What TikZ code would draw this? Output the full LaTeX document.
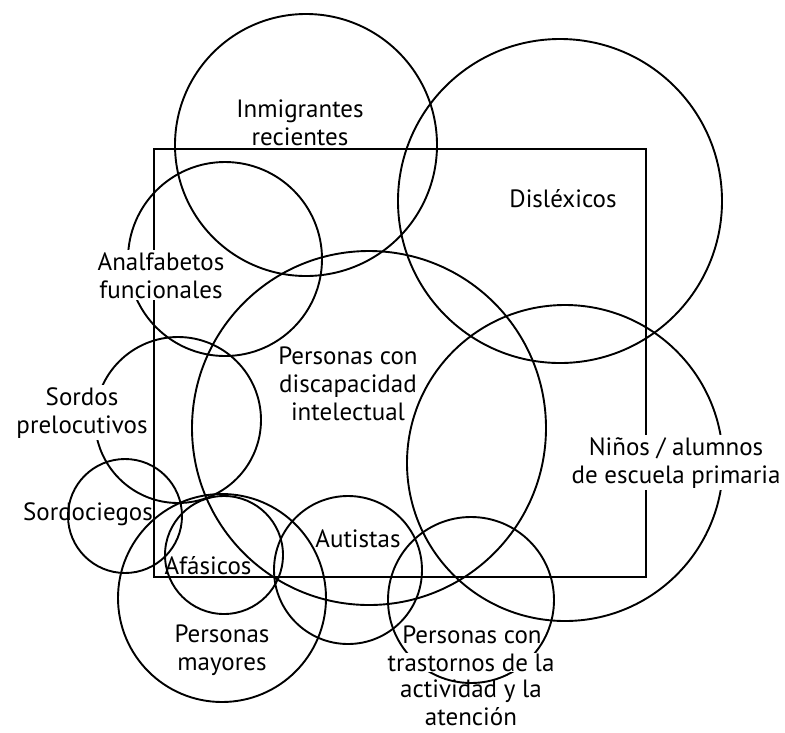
\documentclass[tikz,border=0pt]{standalone}
\usepackage{fontspec}
\setmainfont{PT Sans}
\tikzset{
  grupo/.style={line width=1.9pt},
  marco/.style={line width=2.4pt},
  etiqueta/.style={font=\fontsize{25}{28}\selectfont, align=center, anchor=base, inner sep=0pt},
  tapada/.style={etiqueta, fill=white, inner sep=2pt}
}

\begin{document}
\begin{tikzpicture}[x=1pt, y=-1pt]
  \useasboundingbox (0,0) rectangle (785,732);

  % Groups
  \draw[grupo] (306,145) circle[radius=131pt];
  \draw[grupo] (560,201) circle[radius=162pt];
  \draw[grupo] (225,259) circle[radius=97pt];
  \draw[grupo] (369,428) circle[radius=177pt];
  \draw[grupo] (178,420) circle[radius=83pt];
  \draw[grupo] (125,516) circle[radius=57pt];
  \draw[grupo] (224,555) circle[radius=59pt];
  \draw[grupo] (222,598) circle[radius=104pt];
  \draw[grupo] (348,570) circle[radius=74pt];
  \draw[grupo] (471,600) circle[radius=83pt];
  \draw[grupo] (565,463) circle[radius=158pt];

  % Frame
  \draw[marco] (154,149) rectangle (646,577);

  % Labels over white
  \node[tapada] (analf) at (161,298) {Analfabetos\\funcionales};
  \node[tapada] (sordos) at (82,433) {Sordos\\prelocutivos};
  \node[tapada] (ninos) at (676,483) {Niños / alumnos\\de escuela primaria};
  \node[tapada, inner sep=1pt] (trastB) at (471,671) {trastornos de la};

  % Labels
  \node[etiqueta] (inmig) at (300,145) {Inmigrantes\\recientes};
  \node[etiqueta] (disl) at (563,207) {Disléxicos};
  \node[etiqueta] (disc) at (348,420) {Personas con\\discapacidad\\intelectual};
  \node[etiqueta] (sordoc) at (88,520) {Sordociegos};
  \node[etiqueta] (afas) at (208,574) {Afásicos};
  \node[etiqueta] (autis) at (358,547) {Autistas};
  \node[etiqueta] (mayores) at (222,670) {Personas\\mayores};
  \node[etiqueta] (trastA) at (472,643) {Personas con};
  \node[etiqueta] (trastC) at (471,725) {actividad y la\\atención};
\end{tikzpicture}
\end{document}
